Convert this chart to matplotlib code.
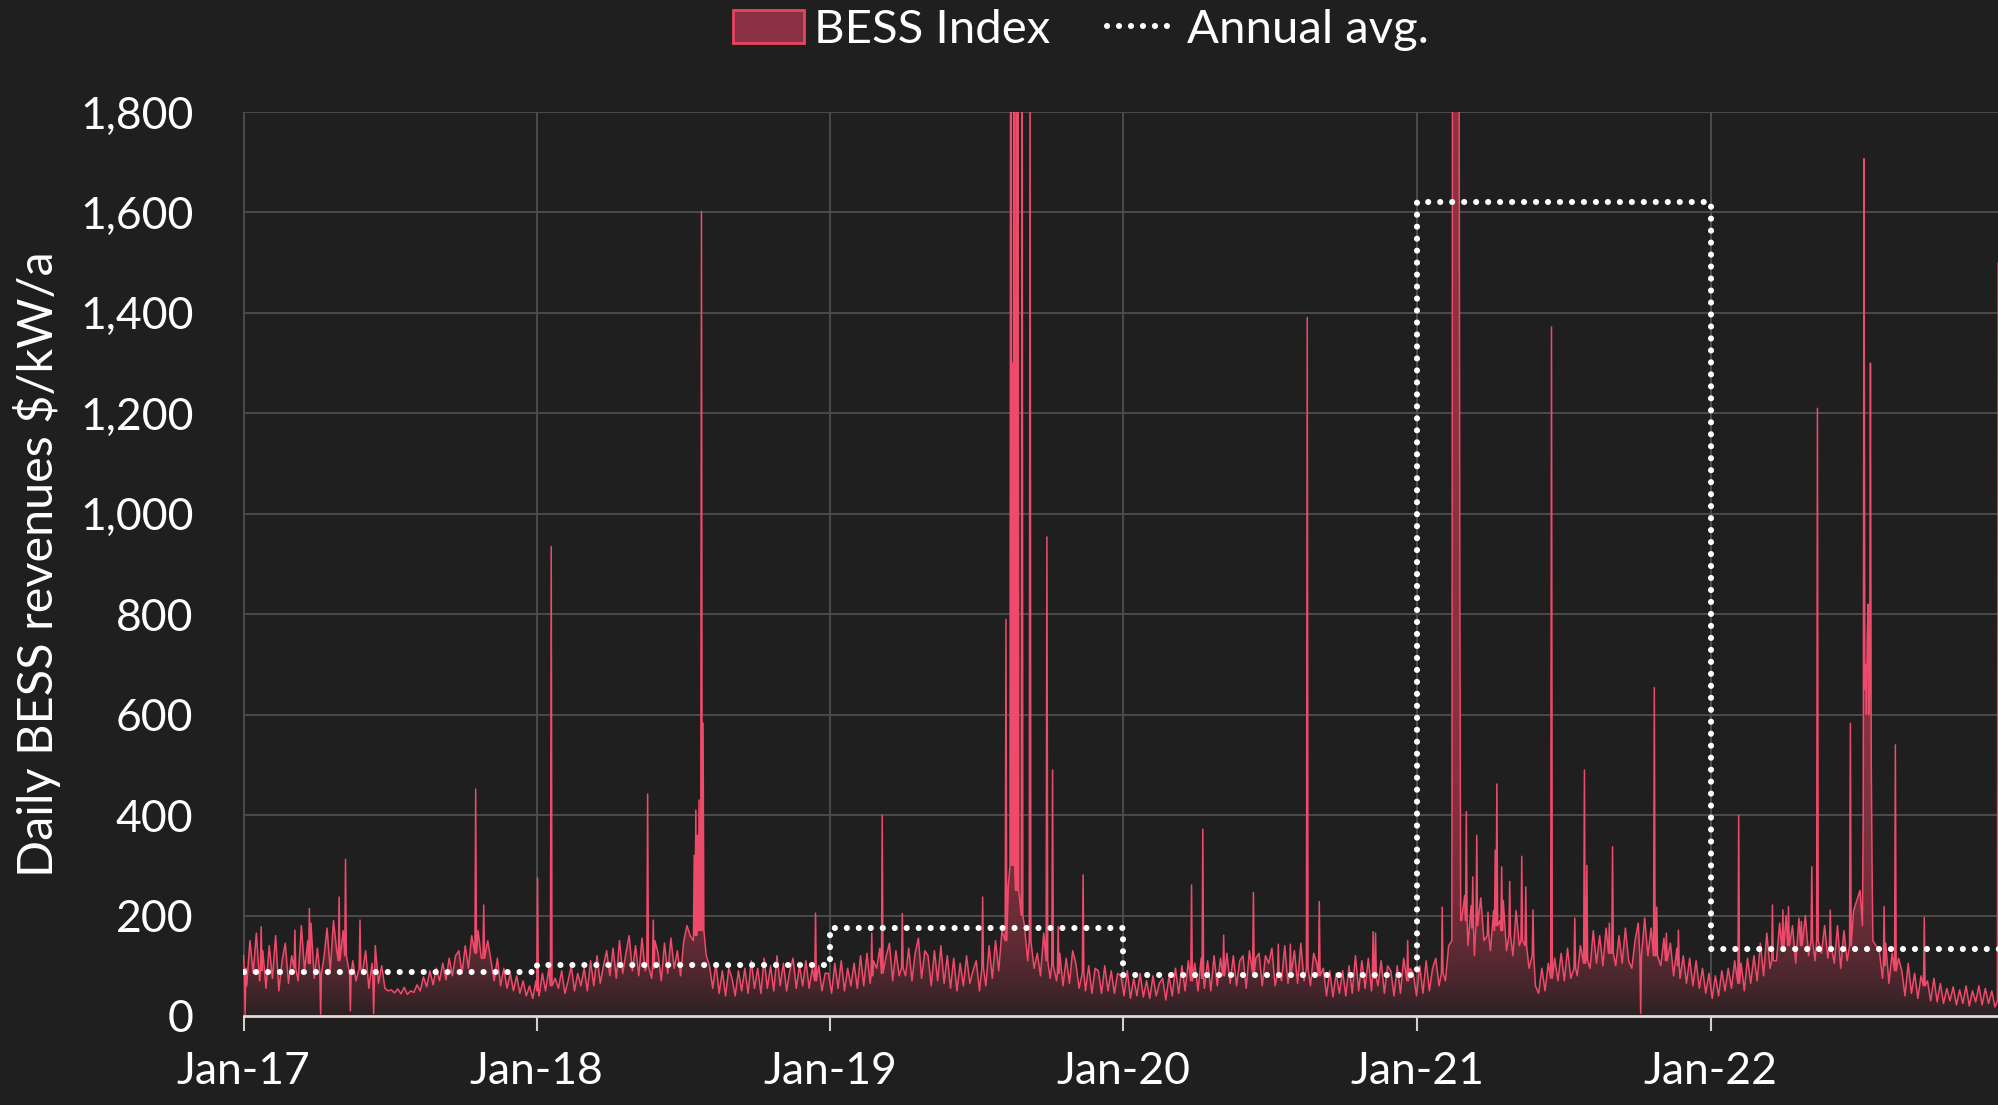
import numpy as np
import pandas as pd
import matplotlib
matplotlib.use("Agg")
import matplotlib.pyplot as plt
import matplotlib.dates as mdates
from matplotlib.patches import Patch
from matplotlib.lines import Line2D
from matplotlib.ticker import FuncFormatter

# ---- data ----
# daily index sampled every 4 days, in rough month chunks per year
base_2017 = [120, 60, 150, 85, 165, 70, 130, 55, 140, 75, 160, 50, 110, 145, 65,
             120, 170, 70, 180, 90, 150, 185, 75, 135, 60, 115, 175, 90, 190, 130, 80,
             170, 75, 185, 110, 70, 160, 85, 130, 55, 105, 140, 65, 100, 55, 50,
             52, 46, 54, 44, 57, 43, 50, 47, 62, 50, 78, 58, 90, 62, 95,
             70, 105, 72, 115, 80, 120, 130, 85, 140, 95, 160, 105, 170, 115, 100, 150,
             110, 70, 115, 60, 95, 55, 85, 50, 80, 45, 70, 40, 60, 35]
base_2018 = [70, 40, 85, 50, 95, 45, 75, 55, 90, 45, 70, 100, 50, 85, 60,
             95, 50, 110, 60, 120, 65, 100, 130, 80, 135, 75, 150, 85, 125, 160, 90,
             140, 80, 155, 90, 135, 75, 150, 125, 70, 145, 85, 155, 95, 130, 80,
             150, 180, 160, 200, 190, 210, 170, 120, 100, 55, 105, 45, 90, 40, 95,
             75, 40, 90, 50, 95, 45, 110, 55, 95, 45, 115, 55, 100, 50, 120, 60,
             105, 50, 90, 115, 55, 100, 60, 110, 55, 95, 45, 100, 50, 85]
base_2019 = [85, 45, 105, 55, 110, 50, 95, 60, 105, 55, 120, 60, 125, 65, 110,
             95, 135, 60, 120, 145, 70, 130, 80, 150, 80, 135, 70, 125, 155, 75, 130,
             120, 60, 130, 70, 140, 65, 120, 55, 115, 50, 105, 60, 120, 65, 90,
             110, 50, 120, 60, 140, 75, 150, 90, 170, 210, 260, 300, 280, 230, 190,
             180, 110, 140, 95, 125, 80, 165, 90, 75, 150, 70, 125, 60, 115, 65, 130,
             105, 55, 120, 50, 100, 45, 95, 90, 45, 100, 50, 90, 45, 85]
base_2020 = [80, 40, 90, 35, 75, 40, 85, 38, 70, 35, 80, 40, 65, 75, 32,
             80, 40, 95, 45, 100, 50, 110, 55, 105, 50, 115, 55, 110, 50, 120, 60,
             115, 55, 125, 65, 120, 60, 110, 120, 55, 130, 65, 115, 125, 60, 120,
             105, 135, 60, 125, 70, 140, 65, 120, 130, 65, 145, 70, 135, 60, 125,
             105, 45, 95, 40, 90, 38, 85, 45, 90, 40, 100, 45, 120, 50, 110, 55,
             115, 50, 125, 60, 110, 45, 100, 90, 40, 100, 45, 115, 50, 95]
base_2021 = [85, 40, 100, 45, 110, 50, 95, 115, 60, 120, 70, 140, 200, 220, 200,
             190, 240, 140, 220, 120, 200, 235, 150, 220, 130, 210, 110, 190, 230, 130, 200,
             120, 210, 140, 105, 195, 95, 160, 60, 45, 95, 50, 105, 60, 115, 70,
             125, 70, 135, 75, 145, 80, 140, 90, 160, 95, 170, 105, 160, 100, 175,
             110, 165, 100, 160, 105, 175, 110, 95, 150, 185, 110, 195, 120, 175, 105, 165,
             100, 155, 85, 145, 80, 135, 75, 120, 65, 115, 60, 110, 55, 95]
base_2022 = [45, 85, 35, 80, 40, 90, 50, 95, 55, 110, 60, 105, 50, 115, 65,
             120, 70, 145, 80, 165, 95, 175, 110, 185, 115, 200, 120, 180, 105, 195, 130,
             200, 120, 190, 110, 205, 125, 180, 115, 190, 105, 180, 95, 170, 110, 195,
             210, 230, 250, 240, 220, 200, 170, 140, 130, 75, 145, 65, 125, 55, 115,
             90, 40, 105, 45, 85, 35, 80, 40, 70, 30, 75, 28, 65, 25, 55, 30,
             58, 22, 52, 25, 60, 20, 50, 28, 60, 22, 55, 25, 50, 18]

# single-day spikes / dips: (date, peak, level either side)
spikes = [
    ("2017-01-03", 3, 95), ("2017-01-23", 178, 90), ("2017-03-06", 171, 95),
    ("2017-03-24", 214, 105), ("2017-04-07", 4, 85), ("2017-04-30", 237, 110),
    ("2017-05-08", 312, 120), ("2017-05-14", 10, 85), ("2017-05-26", 191, 95),
    ("2017-06-12", 5, 75), ("2017-10-17", 452, 125), ("2017-10-27", 221, 115),
    ("2018-01-02", 275, 50), ("2018-01-19", 935, 60), ("2018-05-19", 442, 100),
    ("2018-05-26", 191, 95), ("2018-07-16", 320, 150), ("2018-07-18", 410, 160),
    ("2018-07-20", 360, 160), ("2018-07-22", 430, 170), ("2018-07-25", 1602, 200),
    ("2018-07-27", 583, 170), ("2018-12-14", 205, 70),
    ("2019-02-22", 165, 80), ("2019-03-07", 400, 85), ("2019-04-01", 204, 95),
    ("2019-07-10", 237, 95), ("2019-08-08", 790, 150), ("2019-08-14", 2600, 300),
    ("2019-08-16", 1300, 300), ("2019-08-18", 3000, 300), ("2019-08-21", 2500, 250),
    ("2019-08-23", 2200, 250), ("2019-08-28", 2400, 200), ("2019-09-07", 2000, 150),
    ("2019-09-28", 954, 110), ("2019-10-05", 490, 100), ("2019-10-12", 178, 85),
    ("2019-11-12", 281, 85),
    ("2020-03-26", 261, 70), ("2020-04-09", 372, 75), ("2020-05-05", 161, 80),
    ("2020-06-11", 246, 85), ("2020-07-12", 143, 85), ("2020-07-27", 143, 85),
    ("2020-08-17", 1391, 95), ("2020-09-01", 228, 80), ("2020-11-07", 168, 75),
    ("2020-11-10", 165, 75), ("2020-12-20", 150, 70),
    ("2021-02-01", 217, 85), ("2021-02-14", 2400, 150), ("2021-02-15", 9000, 150),
    ("2021-02-16", 9000, 150), ("2021-02-17", 8000, 150), ("2021-02-18", 7000, 150),
    ("2021-02-19", 4000, 150), ("2021-02-20", 2500, 150), ("2021-02-21", 2000, 150),
    ("2021-02-22", 1900, 150), ("2021-02-23", 800, 190),
    ("2021-03-03", 407, 190), ("2021-03-11", 277, 175), ("2021-03-16", 360, 180),
    ("2021-03-30", 207, 160), ("2021-04-08", 330, 170), ("2021-04-10", 462, 180),
    ("2021-04-16", 297, 170), ("2021-04-26", 268, 160), ("2021-05-11", 318, 150),
    ("2021-05-16", 257, 140), ("2021-05-25", 211, 120), ("2021-06-17", 1372, 75),
    ("2021-07-16", 195, 95), ("2021-07-28", 490, 105), ("2021-07-31", 300, 110),
    ("2021-08-28", 185, 125), ("2021-09-01", 337, 125), ("2021-10-06", 5, 120),
    ("2021-10-23", 654, 120), ("2021-10-26", 217, 120), ("2021-11-07", 165, 110),
    ("2021-11-22", 171, 100),
    ("2022-02-05", 400, 65), ("2022-03-19", 221, 110), ("2022-04-01", 211, 130),
    ("2022-04-08", 218, 140), ("2022-04-24", 188, 140), ("2022-05-07", 297, 150),
    ("2022-05-14", 1210, 150), ("2022-05-30", 211, 140), ("2022-06-24", 583, 140),
    ("2022-07-10", 400, 180), ("2022-07-11", 1707, 200), ("2022-07-12", 650, 200),
    ("2022-07-13", 700, 200), ("2022-07-14", 600, 200), ("2022-07-15", 750, 200),
    ("2022-07-16", 820, 200), ("2022-07-17", 600, 200), ("2022-07-18", 650, 200),
    ("2022-07-19", 1300, 200), ("2022-07-20", 500, 180), ("2022-07-21", 300, 150),
    ("2022-08-05", 218, 100), ("2022-08-19", 540, 90), ("2022-09-24", 196, 60),
    ("2022-12-25", 1500, 30),
]

avg_years = ["2017-01-01", "2018-01-01", "2019-01-01", "2020-01-01",
             "2021-01-01", "2022-01-01", "2022-12-31"]
avg_values = [87.5, 102, 174.5, 82, 1621, 133, 133]

# ---- build series ----
base_vals = base_2017 + base_2018 + base_2019 + base_2020 + base_2021 + base_2022
series = pd.Series(base_vals, index=pd.date_range("2017-01-01", periods=len(base_vals), freq="4D"),
                   dtype=float)
peaks = {pd.Timestamp(d): v for d, v, _ in spikes}
sides = {}
for d, v, lo in spikes:
    t = pd.Timestamp(d)
    for dd in (t - pd.Timedelta(days=1), t + pd.Timedelta(days=1)):
        if dd not in peaks:
            sides[dd] = lo
for k, v in sides.items():
    series[k] = v
for k, v in peaks.items():
    series[k] = v
series = series.sort_index()

BG = "#1f1f1f"
PINK = "#ee4a6a"
DOT_LW = 4.4
DOTS = (0, (0.01, 1.95))

fig = plt.figure(figsize=(19.99, 11.05), dpi=100, facecolor=BG)
ax = fig.add_axes([243.5 / 1999, 89 / 1105, 1 - 243.5 / 1999, 904 / 1105])
ax.set_facecolor(BG)

x = series.index
y = series.values

# gradient fill under the curve
poly = ax.fill_between(x, y, 0, facecolor="none", edgecolor="none")
vv = np.linspace(0, 1800, 600)
alpha = 0.06 + 0.47 * (1 - np.exp(-vv / 180))
bg = np.array([31, 31, 31]) / 255
pk = np.array([232, 68, 95]) / 255
grad = (bg[None, :] + alpha[:, None] * (pk - bg)[None, :])[:, None, :]
x0 = mdates.date2num(pd.Timestamp("2016-12-20"))
x1 = mdates.date2num(pd.Timestamp("2023-01-10"))
im = ax.imshow(grad, extent=[x0, x1, 0, 1800], origin="lower", aspect="auto",
               interpolation="bilinear", zorder=1)
im.set_clip_path(poly.get_paths()[0], transform=ax.transData)

ax.plot(x, y, color=PINK, lw=1.1, zorder=2)

ax.step(pd.to_datetime(avg_years), avg_values, where="post", color="white", lw=DOT_LW,
        linestyle=DOTS, dash_capstyle="round", zorder=4)

ax.set_xlim(pd.Timestamp("2017-01-01"), pd.Timestamp("2022-12-26"))
ax.set_ylim(0, 1800)
ax.set_yticks(range(0, 1801, 200))
ax.yaxis.set_major_formatter(FuncFormatter(lambda v, p: f"{int(v):,}"))
ax.xaxis.set_major_locator(mdates.YearLocator())
ax.xaxis.set_major_formatter(mdates.DateFormatter("%b-%y"))

ax.grid(True, color="#4e4e4e", lw=1.3, zorder=0)
ax.set_axisbelow(True)
for s in ("top", "right", "left"):
    ax.spines[s].set_visible(False)
ax.spines["bottom"].set_color("#e6d6da")
ax.spines["bottom"].set_linewidth(2)
ax.spines["bottom"].set_zorder(5)

FONT = "Lato"
ax.tick_params(axis="x", direction="out", length=11, width=1.5, color="#d0d0d0",
               labelcolor="white", labelsize=32, pad=14)
ax.tick_params(axis="y", length=0, labelcolor="white", labelsize=32, pad=36)
for lab in ax.get_xticklabels() + ax.get_yticklabels():
    lab.set_fontfamily(FONT)

ax.set_ylabel("Daily BESS revenues $/kW/a", color="white", fontsize=35,
              fontfamily=FONT, labelpad=14)

handles = [
    Patch(facecolor="#8a3045", edgecolor="#e8445f", lw=2, label="BESS Index"),
    Line2D([], [], color="white", lw=DOT_LW, linestyle=DOTS,
           dash_capstyle="round", label="Annual avg."),
]
fig.legend(handles=handles, loc="center", bbox_to_anchor=(1081 / 1999, 1 - 30 / 1105),
           ncol=2, frameon=False, handlelength=1.5, handletextpad=0.2,
           columnspacing=1.2, labelcolor="white",
           prop={"family": FONT, "size": 34})

fig.savefig("out.png", dpi=100, facecolor=BG)
